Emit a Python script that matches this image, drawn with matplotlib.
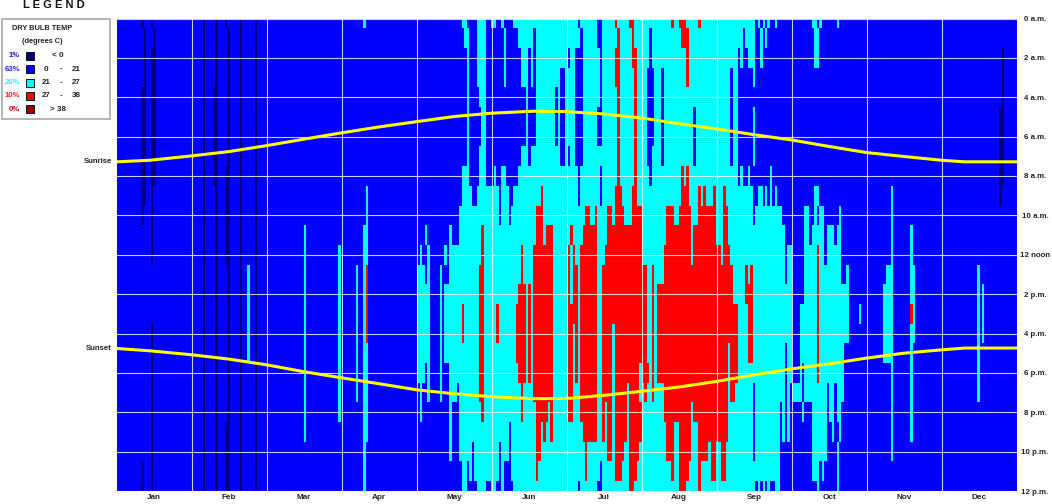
import numpy as np
import matplotlib
matplotlib.use("Agg")
import matplotlib.pyplot as plt
from matplotlib.colors import ListedColormap, BoundaryNorm
from matplotlib.patches import Rectangle
from matplotlib.transforms import blended_transform_factory

plt.rcParams['font.family'] = ['Liberation Sans', 'DejaVu Sans']

MONTHS = ['Jan','Feb','Mar','Apr','May','Jun','Jul','Aug','Sep','Oct','Nov','Dec']
HOUR_LABELS = ['0 a.m.','2 a.m.','4 a.m.','6 a.m.','8 a.m.','10 a.m.','12 noon',
               '2 p.m.','4 p.m.','6 p.m.','8 p.m.','10 p.m.','12 p.m.']
LEGEND_PCT = ['1%','63%','26%','10%','0%']
LEGEND_COLORS = ['#000078','#0000ff','#00ffff','#ff0000','#990000']
PCT_COLORS = ['#1a1aa8','#2222ff','#22f5f5','#ff2222','#aa1111']

# Temperature band per (hour row, day). Base band is 21-27 (cyan).
BLUE_RUNS = [
 [(0,140),(142,146),(150,152),(154,156),(157,161),(187,188),(195,197),(259,260),(261,262),(263,264),(265,267),(268,282),(284,285),(286,292),(293,365)],
 [(0,141),(143,146),(150,157),(158,163),(169,170),(188,189),(195,197),(216,217),(254,255),(259,261),(262,263),(264,283),(285,365)],
 [(0,142),(143,146),(150,157),(158,164),(167,168),(169,170),(183,184),(186,189),(196,197),(216,217),(252,253),(254,256),(259,261),(262,283),(285,365)],
 [(0,142),(143,146),(150,157),(158,164),(167,168),(169,170),(180,182),(186,189),(196,197),(215,218),(221,222),(249,250),(252,258),(259,365)],
 [(0,142),(143,147),(150,166),(167,170),(178,179),(180,182),(186,189),(196,197),(215,218),(221,222),(249,250),(252,365)],
 [(0,142),(143,148),(150,166),(167,170),(178,179),(180,182),(186,189),(195,197),(215,218),(221,222),(234,235),(249,250),(252,258),(259,365)],
 [(0,142),(143,148),(150,166),(167,170),(178,179),(180,182),(186,189),(195,197),(215,218),(221,222),(234,235),(249,250),(252,258),(259,365)],
 [(0,142),(143,147),(150,164),(167,168),(180,182),(183,184),(186,189),(215,217),(221,222),(234,235),(249,250),(252,258),(259,365)],
 [(0,140),(143,147),(150,153),(154,156),(158,163),(187,188),(196,197),(216,217),(252,253),(254,256),(257,265),(266,365)],
 [(0,140),(144,146),(155,156),(159,161),(187,188),(196,197),(258,260),(262,263),(264,265),(266,267),(268,283),(285,365)],
 [(0,139),(155,156),(159,160),(258,259),(270,279),(281,283),(284,285),(287,293),(294,365)],
 [(0,125),(126,135),(136,139),(271,279),(281,282),(287,288),(291,292),(294,365)],
 [(0,123),(124,126),(127,133),(134,135),(271,272),(274,279),(287,288),(294,365)],
 [(0,122),(125,126),(127,131),(132,135),(271,272),(274,279),(294,296),(297,365)],
 [(0,122),(127,131),(132,133),(274,279),(297,365)],
 [(0,122),(127,131),(132,133),(274,277),(297,365)],
 [(0,122),(127,131),(132,133),(274,277),(297,365)],
 [(0,122),(127,131),(132,133),(271,272),(274,277),(295,365)],
 [(0,122),(125,126),(127,131),(132,135),(271,272),(274,277),(278,279),(295,365)],
 [(0,123),(124,126),(127,131),(132,135),(138,139),(258,259),(271,272),(273,274),(278,279),(288,289),(291,292),(295,365)],
 [(0,123),(124,135),(136,139),(258,259),(269,270),(271,272),(273,278),(279,282),(288,289),(291,292),(294,365)],
 [(0,135),(136,139),(159,160),(258,259),(269,270),(271,272),(273,282),(288,290),(291,293),(294,365)],
 [(0,135),(136,139),(144,145),(155,156),(159,160),(258,259),(269,282),(288,292),(293,365)],
 [(0,140),(142,143),(144,145),(155,156),(157,160),(196,197),(269,282),(285,286),(287,292),(293,365)],
 [(0,140),(142,146),(150,152),(154,156),(157,161),(187,188),(195,197),(259,260),(261,262),(263,264),(265,267),(269,284),(285,292),(293,365)],
]

RED_RUNS = [
 [(202,203),(208,210),(225,226),(228,231),(236,237)],
 [(203,204),(209,210),(229,232)],
 [(202,204),(209,211),(231,232)],
 [(202,204),(210,211),(231,232)],
 [(203,204),(210,211)],
 [(203,204),(210,211)],
 [(203,204),(210,211)],
 [(203,204),(210,211)],
 [(203,204),(210,211),(229,230),(231,232)],
 [(172,173),(202,205),(209,211),(229,232),(236,237),(238,239),(242,243),(246,247)],
 [(170,173),(190,192),(194,195),(199,201),(202,206),(209,213),(223,225),(225,226),(228,233),(236,243),(246,248)],
 [(148,149),(170,173),(174,177),(184,185),(189,195),(199,213),(223,233),(234,243),(246,248)],
 [(148,149),(164,165),(169,177),(183,184),(185,186),(188,195),(198,213),(222,233),(234,245),(246,249),(284,285)],
 [(147,149),(164,165),(169,177),(183,184),(185,186),(186,187),(188,195),(197,215),(217,218),(222,250),(255,256),(257,258),(284,285)],
 [(147,149),(163,166),(167,168),(169,177),(183,184),(185,186),(186,187),(188,195),(197,215),(217,218),(219,250),(255,258),(284,285)],
 [(140,141),(147,149),(154,155),(162,166),(167,168),(169,177),(183,187),(188,195),(197,215),(217,218),(219,252),(256,258),(284,285)],
 [(140,141),(147,149),(154,155),(162,166),(167,168),(169,177),(183,185),(186,187),(188,195),(197,201),(202,215),(217,218),(219,252),(256,258),(284,285)],
 [(147,149),(162,166),(167,168),(169,177),(183,185),(186,187),(188,195),(197,201),(202,215),(217,218),(219,248),(249,252),(256,258),(284,285)],
 [(147,149),(163,166),(167,168),(169,177),(183,185),(186,187),(188,195),(197,201),(202,212),(213,216),(217,218),(219,248),(249,252),(284,285)],
 [(147,149),(164,165),(169,177),(183,185),(188,195),(197,201),(202,207),(208,212),(214,215),(217,218),(222,248),(249,251)],
 [(148,149),(164,165),(170,175),(176,177),(183,185),(188,195),(197,198),(199,201),(202,207),(208,213),(222,233),(234,248)],
 [(170,172),(173,174),(176,177),(189,195),(197,198),(199,201),(202,207),(208,213),(223,226),(228,233),(236,248)],
 [(170,172),(190,191),(199,201),(202,206),(208,210),(210,212),(223,225),(225,226),(228,233),(236,238),(238,240),(241,243),(245,247)],
 [(170,171),(190,191),(202,205),(208,210),(210,211),(225,226),(228,232),(236,237),(241,243),(245,247)],
 [(208,210),(228,231),(236,237)],
]

# Isolated warm days in the cool season: (first day, last day+1, first row, last row)
CYAN_SPELLS = [(53,54,13,17),(76,77,11,21),(90,91,12,20),(97,98,13,19),(100,101,0,0),(100,101,11,24),
               (101,102,9,21),(301,302,15,15),(314,315,9,22),(312,314,13,17),(311,312,14,17),
               (322,323,11,21),(323,324,13,16),(349,350,13,19),(351,352,14,16)]
RED_SPELLS = [(101,102,13,16),(322,323,15,15)]
# Below-freezing spells
NAVY_SPELLS = [(10,11,0,0),(10,11,4,10),(10,11,23,24),(11,12,1,9),(14,15,0,0),(14,15,2,12),(14,15,16,24),
               (15,16,1,8),(35,36,0,24),(39,40,4,8),(40,41,0,24),(44,45,0,0),(44,45,8,12),(44,45,21,24),
               (45,46,1,24),(50,51,0,24),(56,57,0,24),(358,359,5,9),(359,360,2,8)]

SUN_DAYS = [0,13.6,30.4,45.6,60.8,76,91.2,106.4,121.7,136.9,152,169,182.5,197.7,212.7,228,243.5,258.5,273.8,289,304.2,319.4,334.6,344,365]
SUNRISE = [7.28,7.2,6.98,6.76,6.46,6.13,5.81,5.51,5.24,4.98,4.81,4.71,4.73,4.85,5.05,5.34,5.61,5.9,6.17,6.5,6.81,7.01,7.2,7.28,7.28]
SUNSET = [16.76,16.88,17.08,17.3,17.59,17.94,18.25,18.55,18.86,19.06,19.21,19.31,19.3,19.14,18.94,18.72,18.43,18.1,17.8,17.54,17.25,17.0,16.83,16.74,16.74]

N_DAYS = 365
grid = np.full((25, N_DAYS), 2)
for r, runs in enumerate(BLUE_RUNS):
    for a, b in runs:
        grid[r, a:b] = 1
for r, runs in enumerate(RED_RUNS):
    for a, b in runs:
        grid[r, a:b] = 3
for a, b, r0, r1 in CYAN_SPELLS:
    grid[r0:r1+1, a:b] = 2
for a, b, r0, r1 in RED_SPELLS:
    grid[r0:r1+1, a:b] = 3
for a, b, r0, r1 in NAVY_SPELLS:
    grid[r0:r1+1, a:b] = 0

W, H = 1052, 504
fig = plt.figure(figsize=(W/100, H/100), dpi=100)
ax = fig.add_axes([116.5/W, 1-491/H, 900/W, 472.5/H])

x_edges = np.arange(N_DAYS+1)
y_edges = np.concatenate(([0], np.arange(25)+0.5))
y_edges[-1] = 24
cmap = ListedColormap(LEGEND_COLORS)
norm = BoundaryNorm(np.arange(6)-0.5, 5)
ax.pcolormesh(x_edges, y_edges, grid, cmap=cmap, norm=norm, antialiased=False, linewidth=0)
ax.set_xlim(0, 365)
ax.set_ylim(24, 0)

mw = 365/12
ax.set_xticks([mw*(i+0.5) for i in range(12)])
ax.set_xticklabels(MONTHS, fontsize=5.9, fontweight='bold', color='#222222')
ax.set_xticks([mw*i for i in range(1, 12)], minor=True)
ax.yaxis.tick_right()
ax.set_yticks(np.arange(0, 25, 2))
ax.set_yticklabels(HOUR_LABELS, fontsize=5.7, fontweight='bold', color='#222222', ha='center')
ax.tick_params(axis='y', which='both', length=0, pad=13.3)
ax.tick_params(axis='x', which='both', length=0, pad=2)
ax.grid(True, axis='x', which='minor', color='white', lw=0.8, alpha=0.8, zorder=3)
ax.grid(True, axis='y', which='major', color='white', lw=0.8, alpha=0.8, zorder=3)
ax.grid(False, axis='x', which='major')
ax.set_axisbelow(False)
for s in ax.spines.values():
    s.set_visible(False)

ax.plot(SUN_DAYS, SUNRISE, color='#ffff00', lw=2.2, zorder=5)
ax.plot(SUN_DAYS, SUNSET, color='#ffff00', lw=2.2, zorder=5)
trans = blended_transform_factory(fig.transFigure, ax.transData)
lab = dict(transform=trans, ha='right', va='center', fontsize=5.6, fontweight='bold', color='#222222')
fig.text(112/W, SUNRISE[0], 'Sunrise', **lab)
fig.text(112/W, SUNSET[0], 'Sunset', **lab)

# Legend panel, laid out in pixels
lg = fig.add_axes([0, 0, 1, 1], zorder=10)
lg.set_xlim(0, W); lg.set_ylim(H, 0); lg.axis('off')
txt = dict(fontweight='bold', va='center', color='#222222', fontsize=5.8)
head = dict(txt, fontsize=5.3)
lg.text(53.5, 5.5, 'L E G E N D', ha='center', va='center', fontsize=8, fontweight='bold', color='#111111')
lg.add_patch(Rectangle((1.5, 18.5), 108, 100, fc='white', ec='#b4b4b4', lw=1.4))
lg.text(42, 29, 'DRY BULB TEMP', ha='center', **head)
lg.text(42, 41.5, '(degrees C)', ha='center', **head)
ranges = [('< 0',), ('0','21'), ('21','27'), ('27','38'), ('> 38',)]
for i, (p, c, pc, rng) in enumerate(zip(LEGEND_PCT, LEGEND_COLORS, PCT_COLORS, ranges)):
    y = 55.7 + 13.4*i
    lg.add_patch(Rectangle((25.5, y-4), 8, 8, fc=c, ec='#111111', lw=0.7))
    lg.text(20, y, p, ha='right', va='center', fontsize=5.6, fontweight='bold', color=pc)
    if len(rng) == 1:
        lg.text(58, y, rng[0], ha='center', **txt)
    else:
        lg.text(46, y, rng[0], ha='center', **txt)
        lg.text(61, y, '-', ha='center', **txt)
        lg.text(76, y, rng[1], ha='center', **txt)

fig.savefig('out.png', dpi=100)
